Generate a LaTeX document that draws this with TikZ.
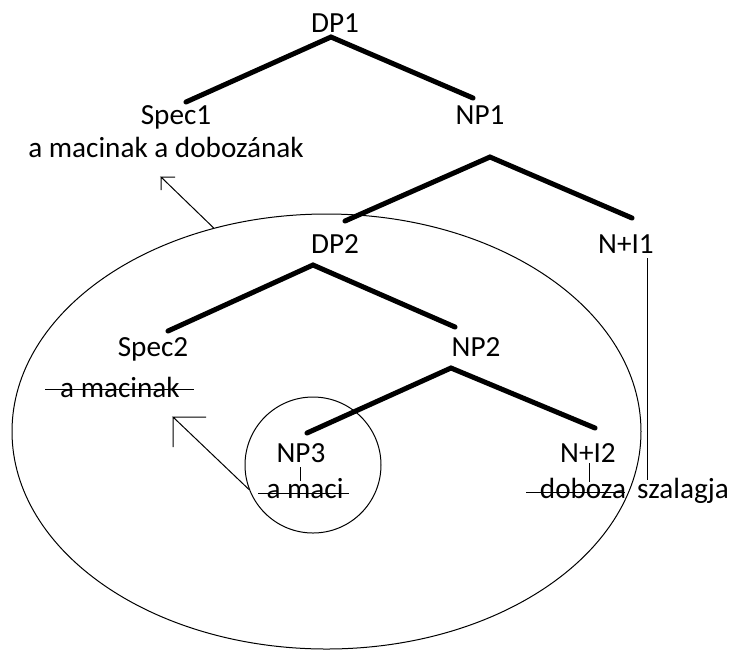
\documentclass[tikz,border=0pt]{standalone}
\usepackage{fontspec}
\setmainfont{Carlito}
\usetikzlibrary{shapes.geometric}
\begin{document}
\begin{tikzpicture}[x=0.5pt, y=-0.5pt,
    lbl/.style={anchor=base, inner sep=0pt, font=\fontsize{14.6}{17}\selectfont},
    branch/.style={line width=2.5pt, line cap=round},
    fine/.style={line width=0.5pt}]
    \useasboundingbox (0,0) rectangle (734,650);
    % Etichette
    \node[lbl] (dp1) at (335,32) {DP1};
    \node[lbl] (spec1) at (176,124) {Spec1};
    \node[lbl] (mac1) at (166,157) {a macinak a dobozának};
    \node[lbl] (np1) at (480,124) {NP1};
    \node[lbl] (dp2) at (335,253) {DP2};
    \node[lbl] (ni1) at (626,253) {N+I1};
    \node[lbl] (spec2) at (153,356) {Spec2};
    \node[lbl] (mac2) at (120,397) {a macinak};
    \node[lbl] (np2) at (476,356) {NP2};
    \node[lbl] (np3) at (301,462) {NP3};
    \node[lbl] (maci) at (305,498) {a maci};
    \node[lbl] (ni2) at (588,462) {N+I2};
    \node[lbl] (dob) at (583,498) {doboza};
    \node[lbl] (szal) at (683,498) {szalagja};
    % Rami
    \draw[branch] (186,102) -- (331,37) -- (473,98);
    \draw[branch] (345,221) -- (490,157) -- (632,218);
    \draw[branch] (168,331) -- (313,265) -- (455,327);
    \draw[branch] (307,433) -- (451,368) -- (595,428);
    % Trattini
    \draw[fine] (300,467) -- (300,481);
    \draw[fine] (589,463) -- (589,482);
    \draw[fine] (647,258) -- (647,480);
    % Barrato
    \draw[fine] (45,389) -- (194,389);
    \draw[fine] (258,493) -- (349,493);
    \draw[fine] (526,492) -- (625,492);
    % Ellisse e cerchio
    \node[fine, draw, ellipse, inner sep=0pt, minimum width=314.5pt,
          minimum height=217.5pt] (big) at (326.5,431.5) {};
    \node[fine, draw, circle, inner sep=0pt, minimum size=68pt] (ring) at (313,465) {};
    % Frecce
    \coordinate (t1) at (161,177);
    \coordinate (t2) at (173,417);
    \draw[fine] (big.119.4) -- (t1) -- ++(14,0) (t1) -- ++(0,13);
    \draw[fine] (ring.201.6) -- (t2) -- ++(33,0) (t2) -- ++(0,30);
\end{tikzpicture}
\end{document}
